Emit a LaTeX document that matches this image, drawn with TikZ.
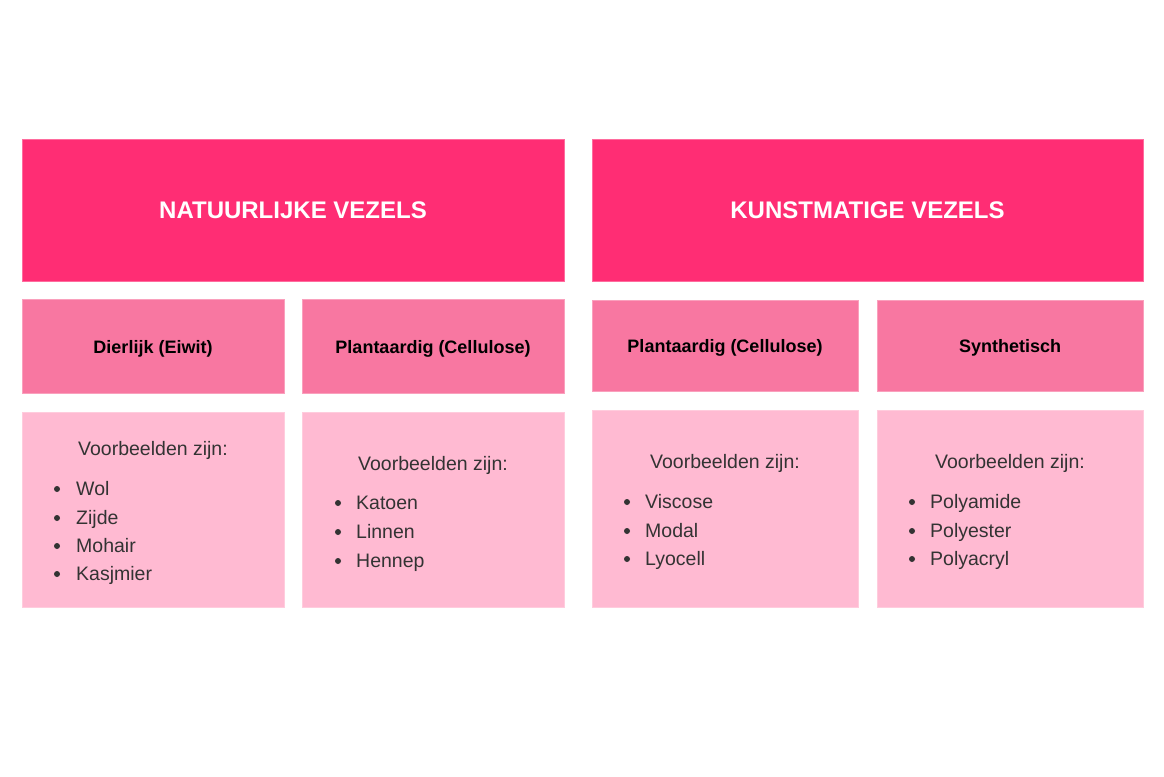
\documentclass[tikz,border=0pt]{standalone}
\usepackage{fontspec}
\setmainfont{Liberation Sans}
\definecolor{hot}{HTML}{FF2D74}
\definecolor{mid}{HTML}{F877A1}
\definecolor{soft}{HTML}{FFBAD2}
\definecolor{softedge}{HTML}{FFCCDD}
\definecolor{txt}{HTML}{333333}
\tikzset{
  x=1pt, y=-1pt,
  topbox/.style={fill=hot, draw=hot!70!white, line width=0.8pt},
  midbox/.style={fill=mid, draw=mid!70!white, line width=0.8pt},
  listbox/.style={fill=soft, draw=softedge, line width=1pt},
  title/.style={text=white, font=\fontsize{24}{28}\selectfont\bfseries},
  sub/.style={text=black, font=\fontsize{18}{21}\selectfont\bfseries, anchor=base},
  head/.style={text=txt, font=\fontsize{19.5}{23}\selectfont, anchor=base},
  item/.style={text=txt, font=\fontsize{19.5}{23}\selectfont, anchor=base west, inner sep=0pt},
  dot/.style={circle, fill=txt, inner sep=0pt, minimum size=6pt},
}
\begin{document}
\begin{tikzpicture}
\useasboundingbox[fill=white] (0,0) rectangle (1164,776);
% top boxes
\draw[topbox] (22,139) rectangle (564,281);
\draw[topbox] (592,139) rectangle (1143,281);
\node[title] (tl) at (293,210) {NATUURLIJKE VEZELS};
\node[title] (tr) at (867.5,210) {KUNSTMATIGE VEZELS};
% middle boxes
\draw[midbox] (22,299) rectangle (284,393);
\draw[midbox] (302,299) rectangle (564,393);
\draw[midbox] (592,300) rectangle (858,391);
\draw[midbox] (877,300) rectangle (1143,391);
\node[sub] (m1) at (153,353.5) {Dierlijk (Eiwit)};
\node[sub] (m2) at (433,353.5) {Plantaardig (Cellulose)};
\node[sub] (m3) at (725,352.5) {Plantaardig (Cellulose)};
\node[sub] (m4) at (1010,352.5) {Synthetisch};
% list boxes
\draw[listbox] (22,412) rectangle (284,607);
\draw[listbox] (302,412) rectangle (564,607);
\draw[listbox] (592,410) rectangle (858,607);
\draw[listbox] (877,410) rectangle (1143,607);
% box 1
\node[head] (h1) at (153,455) {Voorbeelden zijn:};
\node[item] (a1) at (76,495) {Wol};
\node[item] (a2) at (76,524) {Zijde};
\node[item] (a3) at (76,552) {Mohair};
\node[item] (a4) at (76,580) {Kasjmier};
\foreach \y/\n in {489/1,518/2,546/3,574/4} \node[dot] (d1\n) at (57,\y) {};
% box 2
\node[head] (h2) at (433,470) {Voorbeelden zijn:};
\node[item] (b1) at (356,509) {Katoen};
\node[item] (b2) at (356,538) {Linnen};
\node[item] (b3) at (356,567) {Hennep};
\foreach \y/\n in {503/1,532/2,561/3} \node[dot] (d2\n) at (338,\y) {};
% box 3
\node[head] (h3) at (725,468) {Voorbeelden zijn:};
\node[item] (c1) at (645,508) {Viscose};
\node[item] (c2) at (645,537) {Modal};
\node[item] (c3) at (645,565) {Lyocell};
\foreach \y/\n in {502/1,531/2,559/3} \node[dot] (d3\n) at (627,\y) {};
% box 4
\node[head] (h4) at (1010,468) {Voorbeelden zijn:};
\node[item] (e1) at (930,508) {Polyamide};
\node[item] (e2) at (930,537) {Polyester};
\node[item] (e3) at (930,565) {Polyacryl};
\foreach \y/\n in {502/1,531/2,559/3} \node[dot] (d4\n) at (912,\y) {};
\end{tikzpicture}
\end{document}
